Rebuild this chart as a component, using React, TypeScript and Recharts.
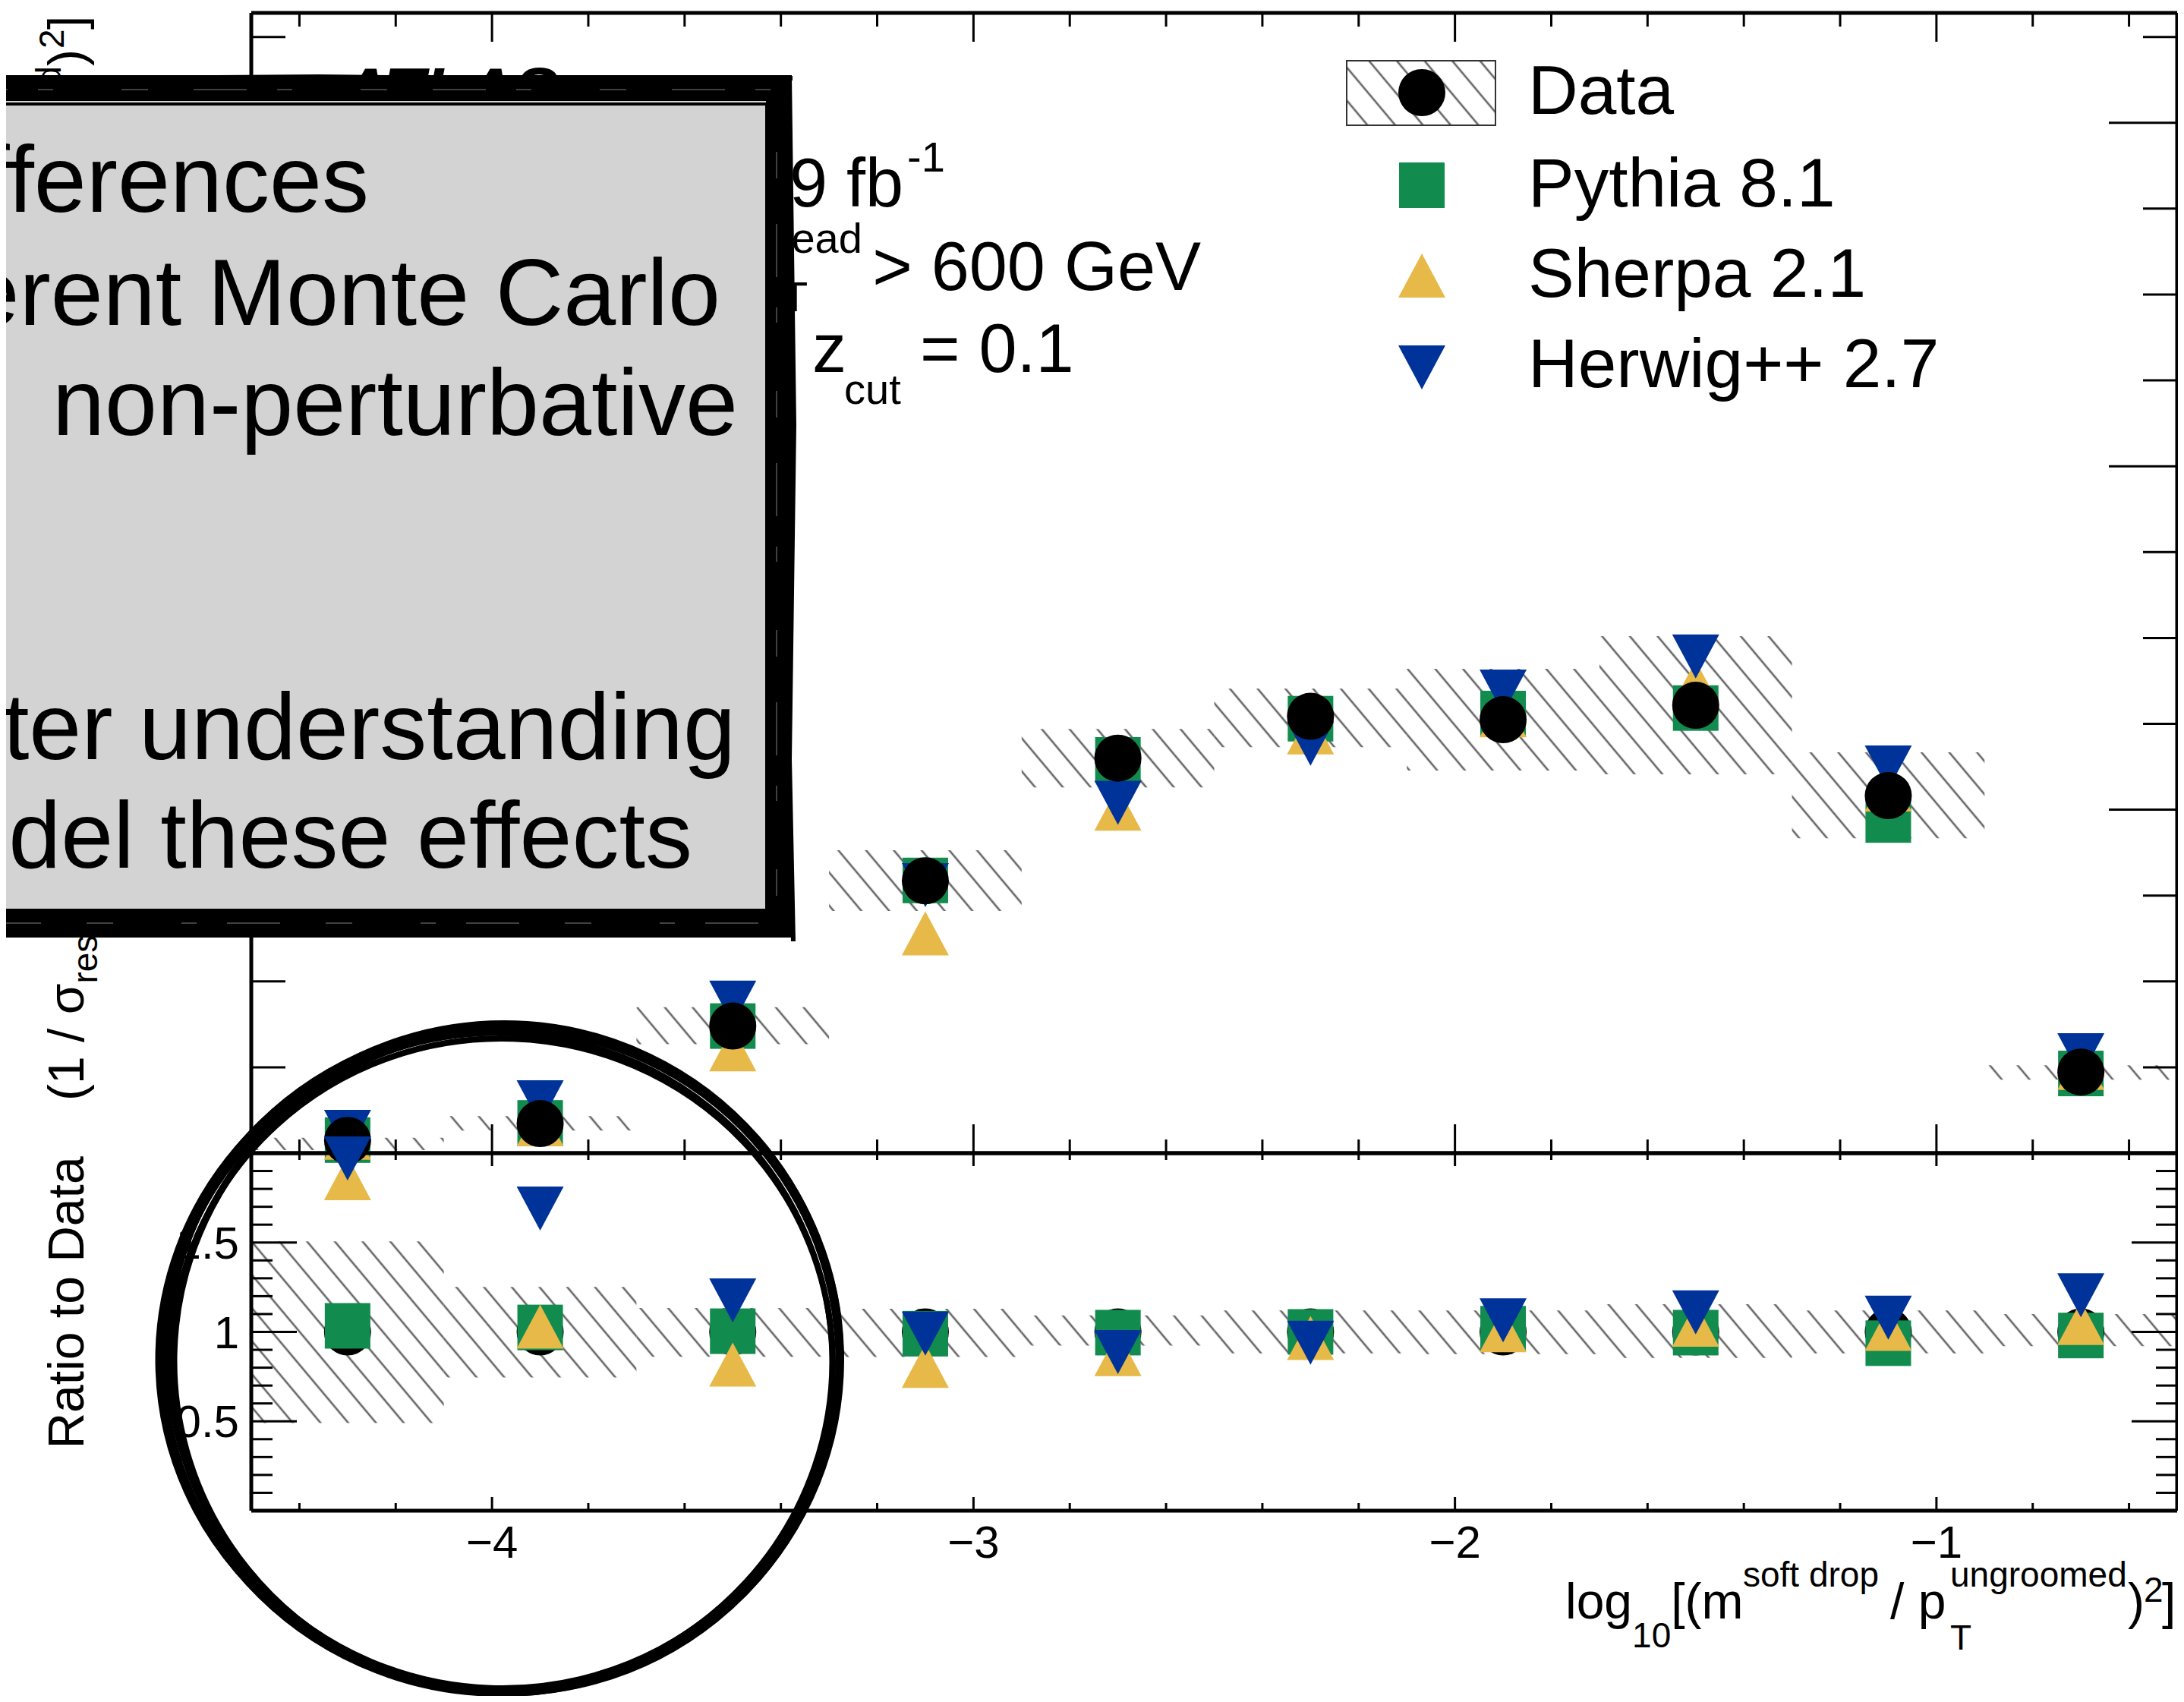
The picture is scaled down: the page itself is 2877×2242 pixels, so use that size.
import React from 'react'
import { ComposedChart, Scatter, XAxis, YAxis, ReferenceArea } from 'recharts'

// Binning of log10[(m/pT)^2]
const BIN_CENTERS = [-4.3, -3.9, -3.5, -3.1, -2.7, -2.3, -1.9, -1.5, -1.1, -0.7]
const BIN_HALF = 0.2

// Upper panel: normalised cross section
const DATA_MAIN = [0.0037, 0.0086, 0.037, 0.0793, 0.115, 0.1272, 0.1262, 0.1304, 0.1041, 0.0236]
const PYTHIA_MAIN = [0.0038, 0.0088, 0.037, 0.0794, 0.1145, 0.1265, 0.128, 0.1296, 0.097, 0.0232]
const SHERPA_MAIN = [0.0045, 0.0084, 0.0302, 0.064, 0.1003, 0.1225, 0.1275, 0.137, 0.1059, 0.0248]
const HERWIG_MAIN = [0.0062, 0.0148, 0.0438, 0.078, 0.102, 0.1192, 0.1344, 0.1446, 0.1123, 0.0285]
const UNC_MAIN_LO = [0.0009, 0.0066, 0.0317, 0.0705, 0.1065, 0.1182, 0.1114, 0.1103, 0.0917, 0.0214]
const UNC_MAIN_HI = [0.0045, 0.0108, 0.0425, 0.0882, 0.1235, 0.1353, 0.141, 0.1505, 0.1167, 0.0256]

// Lower panel: ratio to data
const DATA_RATIO = [1, 1, 1, 1, 1, 1, 1, 1, 1, 1]
const PYTHIA_RATIO = [1.034, 1.025, 1.004, 0.99, 0.996, 1.0, 1.018, 0.996, 0.937, 0.98]
const SHERPA_RATIO = [1.86, 1.03, 0.817, 0.81, 0.876, 0.966, 1.01, 1.04, 1.017, 1.05]
const HERWIG_RATIO = [1.97, 1.69, 1.176, 0.99, 0.887, 0.94, 1.065, 1.109, 1.08, 1.205]
const UNC_RATIO_LO = [0.49, 0.745, 0.861, 0.86, 0.924, 0.88, 0.876, 0.855, 0.88, 0.92]
const UNC_RATIO_HI = [1.506, 1.252, 1.134, 1.13, 1.092, 1.12, 1.12, 1.155, 1.12, 1.1]

// Axes
const X_DOMAIN: [number, number] = [-4.5, -0.5]
const X_TICKS = [-4.4, -4.2, -4, -3.8, -3.6, -3.4, -3.2, -3, -2.8, -2.6, -2.4, -2.2, -2, -1.8, -1.6, -1.4, -1.2, -1, -0.8, -0.6]
const X_MAJOR = [-4, -3, -2, -1]
const X_LABELS = ['\u22124', '\u22123', '\u22122', '\u22121']
const MAIN_Y_DOMAIN: [number, number] = [0, 0.332]
const MAIN_Y_TICKS = [0.025, 0.05, 0.075, 0.1, 0.125, 0.15, 0.175, 0.2, 0.225, 0.25, 0.275, 0.3, 0.325]
const MAIN_Y_MAJOR = [0.1, 0.2, 0.3]
const RATIO_Y_DOMAIN: [number, number] = [0, 2]
const RATIO_Y_TICKS = [0.1, 0.2, 0.3, 0.4, 0.5, 0.6, 0.7, 0.8, 0.9, 1, 1.1, 1.2, 1.3, 1.4, 1.5, 1.6, 1.7, 1.8, 1.9]
const RATIO_Y_MAJOR = [0.5, 1, 1.5]
const RATIO_Y_LABELS = ['0.5', '1', '1.5']

const FONT = "'Liberation Sans', Arial, Helvetica, sans-serif"
const GREEN = '#128b4e'
const YELLOW = '#e6b948'
const BLUE = '#003399'
const HATCH = '#666'

// pad geometry (pixels)
const CHART_W = 2877
const MAIN_H = 1560
const MAIN_M = { top: 16, right: 8, bottom: 40, left: 330 }
const RATIO_H = 762
const RATIO_M = { top: 38, right: 8, bottom: 251, left: 330 }
const RATIO_Y0 = 1480
// strip charts whose bottom edge sits on a pad's top frame line
const EDGE_H = 120
const EDGE_M = { top: 5, right: 9, bottom: 102, left: 331 }
const EDGE_LINE = EDGE_H - EDGE_M.bottom - 1

const points = (vals: (number | null)[]) =>
  BIN_CENTERS.map((x, i) => ({ x, y: vals[i] })).filter(p => p.y != null)

// ROOT-style markers
const DataDot = (p: any) => <circle cx={p.cx} cy={p.cy} r={31} fill="#000" />
const PythiaBox = (p: any) => <rect x={p.cx - 30} y={p.cy - 30} width={60} height={60} fill={GREEN} />
const SherpaUp = (p: any) => (
  <path d={`M${p.cx},${p.cy - 29}L${p.cx + 31},${p.cy + 29}L${p.cx - 31},${p.cy + 29}Z`} fill={YELLOW} />
)
const HerwigDown = (p: any) => (
  <path d={`M${p.cx - 31},${p.cy - 29}L${p.cx + 31},${p.cy - 29}L${p.cx},${p.cy + 29}Z`} fill={BLUE} />
)
const NoMark = () => <g />

// x ticks; tickSize=0 and tickMargin=0 put p.y right on the frame line
const xTick = (dir: number, big: number, small: number, labels?: boolean) => (p: any) => {
  const idx = X_MAJOR.indexOf(p.payload.value)
  const len = idx >= 0 ? big : small
  return (
    <g>
      <line x1={p.x} y1={p.y} x2={p.x} y2={p.y + dir * len} stroke="#000" strokeWidth={3} />
      {labels && idx >= 0 && (
        <text x={p.x} y={p.y + 62} textAnchor="middle" fontSize={60} fontFamily={FONT} fill="#000">
          {X_LABELS[idx]}
        </text>
      )}
    </g>
  )
}

const hTick = (toRight: boolean, majors: number[], big: number, small: number, labels?: string[]) => (p: any) => {
  const idx = majors.indexOf(p.payload.value)
  const len = idx >= 0 ? big : small
  return (
    <g>
      <line x1={p.x} y1={p.y} x2={toRight ? p.x + len : p.x - len} y2={p.y} stroke="#000" strokeWidth={3} />
      {labels && idx >= 0 && (
        <text x={p.x - 16} y={p.y + 21} textAnchor="end" fontSize={60} fontFamily={FONT} fill="#000">
          {labels[idx]}
        </text>
      )}
    </g>
  )
}

const frame = { stroke: '#000', strokeWidth: 5 }

const hatchDef = (id: string) => (
  <defs>
    <pattern id={id} patternUnits="userSpaceOnUse" width={28} height={28} patternTransform="rotate(-40)">
      <line x1={14} y1={0} x2={14} y2={28} stroke={HATCH} strokeWidth={2.6} />
    </pattern>
  </defs>
)

function MainPanel() {
  return (
    <ComposedChart width={CHART_W} height={MAIN_H} margin={MAIN_M}>
      {hatchDef('hatchMain')}
      <XAxis xAxisId="bottom" type="number" dataKey="x" domain={X_DOMAIN} ticks={X_TICKS} interval={0}
        height={1} tickSize={0} tickMargin={0} tickLine={false} axisLine={frame} tick={xTick(-1, 38, 18)} />
      <XAxis xAxisId="top" orientation="top" type="number" dataKey="x" domain={X_DOMAIN} height={1}
        tickLine={false} axisLine={frame} tick={false} />
      <YAxis yAxisId="left" type="number" dataKey="y" domain={MAIN_Y_DOMAIN} ticks={MAIN_Y_TICKS} interval={0}
        width={1} tickSize={0} tickMargin={0} tickLine={false} axisLine={frame} tick={hTick(true, MAIN_Y_MAJOR, 90, 45)} />
      <YAxis yAxisId="right" orientation="right" type="number" dataKey="y" domain={MAIN_Y_DOMAIN} ticks={MAIN_Y_TICKS}
        interval={0} width={1} tickSize={0} tickMargin={0} tickLine={false} axisLine={frame}
        tick={hTick(false, MAIN_Y_MAJOR, 90, 45)} />
      {BIN_CENTERS.map((c, i) => (
        <ReferenceArea key={c} xAxisId="bottom" yAxisId="left" x1={c - BIN_HALF} x2={c + BIN_HALF}
          y1={UNC_MAIN_LO[i]} y2={UNC_MAIN_HI[i]} fill="url(#hatchMain)" fillOpacity={1} stroke="none" ifOverflow="visible" />
      ))}
      {/* binds the mirrored top/right axes so they get a scale */}
      <Scatter xAxisId="top" yAxisId="right" data={points(DATA_MAIN)} shape={NoMark} isAnimationActive={false} />
      <Scatter xAxisId="bottom" yAxisId="left" data={points(PYTHIA_MAIN)} shape={PythiaBox} isAnimationActive={false} />
      <Scatter xAxisId="bottom" yAxisId="left" data={points(SHERPA_MAIN)} shape={SherpaUp} isAnimationActive={false} />
      <Scatter xAxisId="bottom" yAxisId="left" data={points(HERWIG_MAIN)} shape={HerwigDown} isAnimationActive={false} />
      <Scatter xAxisId="bottom" yAxisId="left" data={points(DATA_MAIN)} shape={DataDot} isAnimationActive={false} />
    </ComposedChart>
  )
}

function RatioPanel() {
  return (
    <ComposedChart width={CHART_W} height={RATIO_H} margin={RATIO_M}>
      {hatchDef('hatchRatio')}
      <XAxis xAxisId="bottom" type="number" dataKey="x" domain={X_DOMAIN} ticks={X_TICKS} interval={0}
        height={1} tickSize={0} tickMargin={0} tickLine={false} axisLine={frame} tick={xTick(-1, 18, 10, true)} />
      <XAxis xAxisId="top" orientation="top" type="number" dataKey="x" domain={X_DOMAIN} height={1}
        tickLine={false} axisLine={frame} tick={false} />
      <YAxis yAxisId="left" type="number" dataKey="y" domain={RATIO_Y_DOMAIN} ticks={RATIO_Y_TICKS} interval={0}
        width={1} tickSize={0} tickMargin={0} tickLine={false} axisLine={frame}
        tick={hTick(true, RATIO_Y_MAJOR, 60, 28, RATIO_Y_LABELS)} />
      <YAxis yAxisId="right" orientation="right" type="number" dataKey="y" domain={RATIO_Y_DOMAIN} ticks={RATIO_Y_TICKS}
        interval={0} width={1} tickSize={0} tickMargin={0} tickLine={false} axisLine={frame}
        tick={hTick(false, RATIO_Y_MAJOR, 60, 28)} />
      {BIN_CENTERS.map((c, i) => (
        <ReferenceArea key={c} xAxisId="bottom" yAxisId="left" x1={c - BIN_HALF} x2={c + BIN_HALF}
          y1={UNC_RATIO_LO[i]} y2={UNC_RATIO_HI[i]} fill="url(#hatchRatio)" fillOpacity={1} stroke="none" ifOverflow="visible" />
      ))}
      <Scatter xAxisId="top" yAxisId="right" data={points(DATA_RATIO)} shape={NoMark} isAnimationActive={false} />
      <Scatter xAxisId="bottom" yAxisId="left" data={points(DATA_RATIO)} shape={DataDot} isAnimationActive={false} />
      <Scatter xAxisId="bottom" yAxisId="left" data={points(PYTHIA_RATIO)} shape={PythiaBox} isAnimationActive={false} />
      <Scatter xAxisId="bottom" yAxisId="left" data={points(SHERPA_RATIO)} shape={SherpaUp} isAnimationActive={false} />
      <Scatter xAxisId="bottom" yAxisId="left" data={points(HERWIG_RATIO)} shape={HerwigDown} isAnimationActive={false} />
    </ComposedChart>
  )
}

// Tick marks hanging down from a pad's top frame: a thin strip chart sharing the x scale
function EdgeTicks({ big, small }: { big: number; small: number }) {
  return (
    <ComposedChart width={CHART_W} height={EDGE_H} margin={EDGE_M}>
      <XAxis xAxisId="edge" type="number" dataKey="x" domain={X_DOMAIN} ticks={X_TICKS} interval={0}
        height={1} tickSize={0} tickMargin={0} tickLine={false} axisLine={false} tick={xTick(1, big, small)} />
      <YAxis yAxisId="edge" type="number" dataKey="y" domain={[0, 2]} hide />
      <Scatter xAxisId="edge" yAxisId="edge" data={points(DATA_RATIO)} shape={NoMark} isAnimationActive={false} />
    </ComposedChart>
  )
}

// Labels, legend, titles
function Annotations() {
  return (
    <svg width={2877} height={2242} style={{ position: 'absolute', left: 0, top: 0, pointerEvents: 'none' }}
      fontFamily={FONT}>
      {hatchDef('hatchLegend')}
      <text x={449} y={150} fontSize={88} fontWeight="bold" fontStyle="italic">ATLAS</text>

      <text x={1190} y={272} textAnchor="end" fontSize={90}>{'\u221As = 13 TeV, 32.9 fb'}</text>
      <text x={1195} y={226} fontSize={56}>-1</text>

      <text x={978} y={382} fontSize={90}>p</text>
      <text x={1030} y={410} fontSize={56}>T</text>
      <text x={1030} y={333} fontSize={56}>lead</text>
      <text x={1582} y={382} textAnchor="end" fontSize={90}>{'> 600 GeV'}</text>

      <text x={1040} y={490} textAnchor="end" fontSize={90}>{'\u03B2 = 0,'}</text>
      <text x={1070} y={490} fontSize={90}>z</text>
      <text x={1112} y={532} fontSize={56}>cut</text>
      <text x={1212} y={490} fontSize={90}>= 0.1</text>

      {/* legend */}
      <rect x={1774} y={80} width={196} height={85} fill="url(#hatchLegend)" stroke="#333" strokeWidth={2} />
      <DataDot cx={1873} cy={122} />
      <text x={2013} y={150} fontSize={91}>Data</text>
      <PythiaBox cx={1873} cy={244} />
      <text x={2013} y={272} fontSize={91}>Pythia 8.1</text>
      <SherpaUp cx={1873} cy={363} />
      <text x={2013} y={391} fontSize={91}>Sherpa 2.1</text>
      <HerwigDown cx={1873} cy={484} />
      <text x={2013} y={510} fontSize={91}>Herwig++ 2.7</text>

      {/* x title */}
      <text fontSize={66}>
        <tspan x={2062} y={2132}>log</tspan>
        <tspan fontSize={46} y={2170}>10</tspan>
        <tspan y={2132}>[(m</tspan>
        <tspan fontSize={46} x={2296} y={2090}>soft drop</tspan>
        <tspan x={2490} y={2132}>/ p</tspan>
        <tspan fontSize={46} x={2569} y={2173}>T</tspan>
        <tspan fontSize={46} x={2569} y={2090}>ungroomed</tspan>
        <tspan x={2803} y={2132}>)</tspan>
        <tspan fontSize={46} x={2824} y={2110}>2</tspan>
        <tspan x={2848} y={2132}>]</tspan>
      </text>

      {/* y titles */}
      <g transform="rotate(-90)">
        <text fontSize={66}>
          <tspan x={-1450} y={110}>{'(1 / \u03C3'}</tspan>
          <tspan fontSize={46} y={128}>resum</tspan>
          <tspan y={110}>{') d\u03C3 / d log'}</tspan>
          <tspan fontSize={46} y={128}>10</tspan>
          <tspan y={110}>[(m</tspan>
          <tspan fontSize={46} y={80}>soft drop</tspan>
          <tspan y={110}>{' / p'}</tspan>
          <tspan fontSize={46} x={-320} y={128}>T</tspan>
          <tspan fontSize={46} x={-320} y={80}>ungroomed</tspan>
          <tspan x={-87} y={110}>)</tspan>
          <tspan fontSize={46} x={-64} y={84}>2</tspan>
          <tspan x={-39} y={110}>]</tspan>
        </text>
        <text x={-1716} y={110} textAnchor="middle" fontSize={66}>Ratio to Data</text>
      </g>
    </svg>
  )
}

// Slide call-out box and hand-drawn ring on top of the figure
const BOX_LINES = [
  { text: '\u2022 Large differences', x: 486, y: 279 },
  { text: 'between different Monte Carlo', x: 949, y: 428 },
  { text: 'generators in the\u00A0\u00A0non-perturbative', x: 972, y: 573 },
  { text: '\u2022 Need better understanding', x: 969, y: 1000 },
  { text: 'to model these effects', x: 912, y: 1143 },
]
const RING = [
  [660, 1791, 447, 439, 0, 10],
  [656, 1794, 440, 433, -3, 7],
  [664, 1788, 443, 441, 4, 6],
  [661, 1796, 436, 428, 2, 8],
  [658, 1790, 451, 436, -2, 5],
  [667, 1793, 438, 437, 6, 9],
]

function Callout() {
  return (
    <svg width={2877} height={2242} style={{ position: 'absolute', left: 0, top: 0, pointerEvents: 'none' }}
      fontFamily={FONT}>
      <rect x={-60} y={112} width={1090} height={1110} fill="#d3d3d3" />
      <rect x={-60} y={116} width={1086} height={1102} fill="none" stroke="#000" strokeWidth={34} />
      <rect x={-60} y={118} width={1083} height={1098} fill="none" stroke="#555" strokeWidth={1.5}
        strokeDasharray="70 40 20 90 35 60" />
      <rect x={-60} y={137} width={1070} height={1062} fill="none" stroke="#000" strokeWidth={4} />
      <path d="M-20,104 L420,101 L880,106 L1044,103" fill="none" stroke="#000" strokeWidth={6} />
      <path d="M1040,100 L1046,560 L1040,1000 L1045,1240" fill="none" stroke="#000" strokeWidth={6} />
      {BOX_LINES.map(l => (
        <text key={l.y} x={l.x} y={l.y} textAnchor="end" fontSize={124} fill="#000">{l.text}</text>
      ))}
      {RING.map(([cx, cy, rx, ry, rot, sw], i) => (
        <ellipse key={i} cx={cx} cy={cy} rx={rx} ry={ry} transform={`rotate(${rot} ${cx} ${cy})`}
          fill="none" stroke="#000" strokeWidth={sw} />
      ))}
    </svg>
  )
}

export default function App() {
  const mainTop = MAIN_M.top + 1
  const ratioTop = RATIO_Y0 + RATIO_M.top + 1
  return (
    <div style={{ position: 'relative', width: 2877, height: 2242, margin: -8, overflow: 'hidden', background: '#fff' }}>
      <div style={{ position: 'absolute', left: 0, top: 0 }}>
        <MainPanel />
      </div>
      <div style={{ position: 'absolute', left: 0, top: RATIO_Y0 }}>
        <RatioPanel />
      </div>
      <div style={{ position: 'absolute', left: 0, top: mainTop - EDGE_LINE }}>
        <EdgeTicks big={38} small={18} />
      </div>
      <div style={{ position: 'absolute', left: 0, top: ratioTop - EDGE_LINE }}>
        <EdgeTicks big={17} small={9} />
      </div>
      <Annotations />
      <Callout />
    </div>
  )
}
